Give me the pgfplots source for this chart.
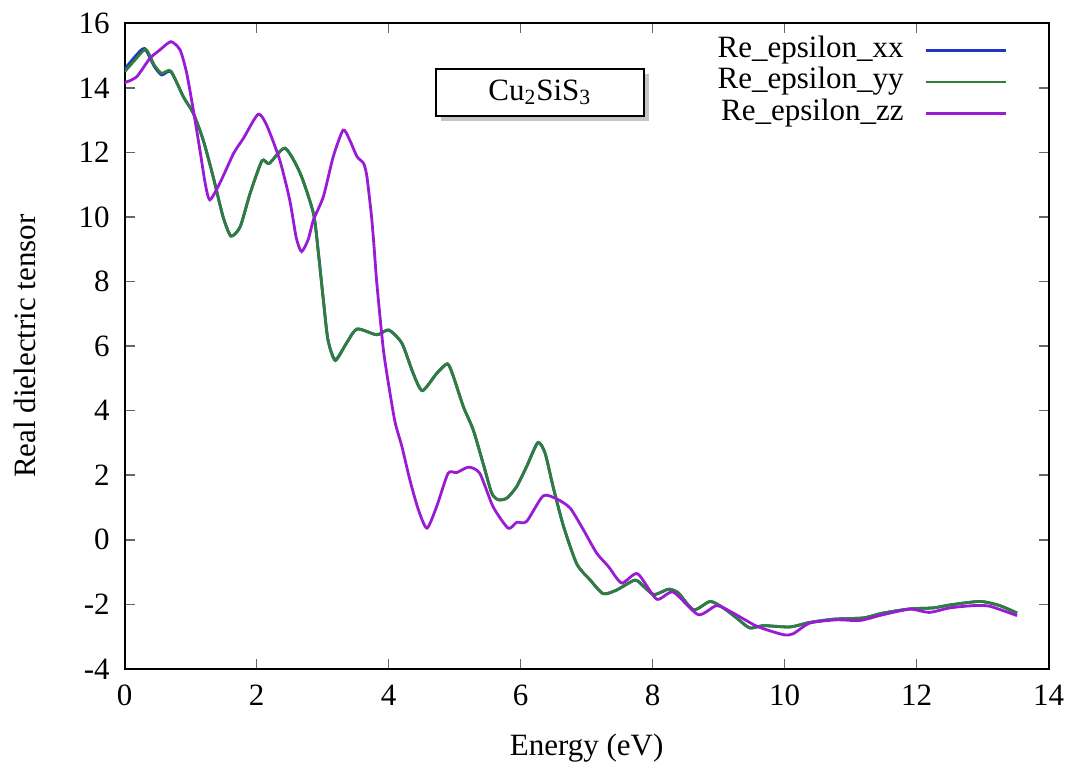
\documentclass[border=0pt]{standalone}
\usepackage{fontspec}
\setmainfont{Liberation Serif}
\usepackage{pgfplots}
\pgfplotsset{compat=1.18}
\usetikzlibrary{shadows}
\definecolor{cxx}{HTML}{1F35C8}
\definecolor{cyy}{HTML}{2F7F3A}
\definecolor{czz}{HTML}{9A1BD6}
\newcommand{\lbl}{\rmfamily\fontsize{15.5}{18}\selectfont}

\pgfplotstableread{
x y
0    14.50
0.15 14.85
0.32 15.19
0.45 14.70
0.56 14.45
0.70 14.52
0.89 13.72
1.04 13.21
1.19 12.38
1.34 11.25
1.49 10.01
1.61 9.41
1.75 9.70
1.90 10.73
2.08 11.74
2.19 11.66
2.43 12.13
2.66 11.35
2.86 10.11
2.93 8.98
3.01 7.43
3.08 6.19
3.19 5.55
3.36 6.09
3.52 6.53
3.82 6.35
4.00 6.50
4.20 6.09
4.37 5.16
4.51 4.62
4.73 5.16
4.89 5.45
4.98 5.06
5.13 4.13
5.28 3.41
5.43 2.37
5.56 1.45
5.66 1.24
5.79 1.29
5.94 1.65
6.09 2.27
6.26 3.01
6.37 2.68
6.49 1.65
6.65 0.41
6.85 -0.75
7.05 -1.24
7.25 -1.67
7.45 -1.56
7.73 -1.25
7.86 -1.44
8.02 -1.70
8.24 -1.53
8.39 -1.65
8.62 -2.17
8.87 -1.91
9.07 -2.11
9.27 -2.42
9.47 -2.73
9.68 -2.66
10.08 -2.70
10.38 -2.56
10.74 -2.46
11.19 -2.42
11.49 -2.27
11.90 -2.14
12.25 -2.11
12.50 -2.02
12.96 -1.91
13.26 -2.04
13.52 -2.27
}\yydata

\pgfplotstableread{
x y
0    14.58
0.15 14.95
0.30 15.22
0.45 14.66
0.56 14.40
0.70 14.50
0.89 13.72
1.04 13.21
1.19 12.38
1.34 11.25
1.49 10.01
1.61 9.41
1.75 9.70
1.90 10.73
2.08 11.74
2.19 11.66
2.43 12.13
2.66 11.35
2.86 10.11
2.93 8.98
3.01 7.43
3.08 6.19
3.19 5.58
3.36 6.09
3.52 6.53
3.82 6.35
4.00 6.50
4.20 6.09
4.37 5.16
4.51 4.62
4.73 5.16
4.89 5.45
4.98 5.06
5.13 4.13
5.28 3.41
5.43 2.37
5.56 1.45
5.66 1.24
5.79 1.29
5.94 1.65
6.09 2.27
6.26 3.01
6.37 2.68
6.49 1.65
6.65 0.41
6.85 -0.75
7.05 -1.24
7.25 -1.67
7.45 -1.56
7.73 -1.25
7.86 -1.44
8.02 -1.70
8.24 -1.53
8.39 -1.65
8.62 -2.17
8.87 -1.91
9.07 -2.11
9.27 -2.42
9.47 -2.73
9.68 -2.66
10.08 -2.70
10.38 -2.56
10.74 -2.46
11.19 -2.42
11.49 -2.27
11.90 -2.14
12.25 -2.11
12.50 -2.02
12.96 -1.91
13.26 -2.04
13.52 -2.27
}\xxdata

\pgfplotstableread{
x y
0    14.16
0.18 14.34
0.38 14.91
0.53 15.17
0.70 15.43
0.84 15.17
0.94 14.45
1.04 13.31
1.14 12.07
1.22 11.04
1.29 10.53
1.44 11.04
1.65 11.97
1.80 12.44
2.02 13.18
2.15 12.85
2.35 11.76
2.50 10.53
2.60 9.35
2.68 8.93
2.78 9.30
2.86 9.91
3.01 10.63
3.16 11.87
3.31 12.69
3.41 12.38
3.52 11.87
3.62 11.66
3.67 11.25
3.74 10.01
3.78 9.03
3.82 7.95
3.92 5.88
4.02 4.54
4.10 3.61
4.20 2.89
4.32 1.86
4.45 0.93
4.58 0.36
4.73 1.05
4.90 2.06
5.03 2.08
5.21 2.25
5.38 2.06
5.58 1.03
5.81 0.36
5.94 0.54
6.09 0.57
6.34 1.36
6.55 1.26
6.75 0.98
6.95 0.31
7.15 -0.41
7.33 -0.83
7.53 -1.34
7.77 -1.05
8.06 -1.84
8.31 -1.62
8.69 -2.32
8.97 -2.04
9.22 -2.27
9.58 -2.68
9.98 -2.94
10.13 -2.91
10.38 -2.58
10.79 -2.48
11.14 -2.50
11.49 -2.32
11.90 -2.15
12.19 -2.25
12.50 -2.11
12.86 -2.04
13.11 -2.06
13.52 -2.35
}\zzdata

\begin{document}
\begin{tikzpicture}
\useasboundingbox (-62.35pt,-46.5pt) rectangle (471.15pt,334.45pt);
\begin{axis}[
  scale only axis,
  width=462pt, height=322.8pt,
  xmin=0, xmax=14, ymin=-4, ymax=16,
  xtick={0,2,...,14}, ytick={-4,-2,...,16},
  xticklabels={0,2,4,6,8,10,12,14},
  yticklabels={-4,-2,0,2,4,6,8,10,12,14,16},
  font=\lbl,
  tick label style={font=\lbl},
  tick align=inside,
  major tick length=5pt,
  major tick style={black!60, line width=0.8pt},
  axis line style={line width=1pt},
  xticklabel style={yshift=-4.5pt},
  yticklabel style={xshift=-4pt},
  xlabel={Energy (eV)},
  ylabel={Real dielectric tensor},
  every axis x label/.style={at={(axis description cs:0.5,-0.1224)}, anchor=center},
  every axis y label/.style={at={(axis description cs:-0.108,0.5)}, anchor=center, rotate=90},
  legend plot pos=right,
  legend cell align=right,
  legend style={draw=none, fill=none, at={(axis description cs:0.956,0.982)}, anchor=north east,
    inner sep=0pt, row sep=0.5pt,
    nodes={text height=10.5pt, text depth=3.5pt, inner sep=0.6pt, font=\lbl}},
  legend image code/.code={\draw[#1] (0pt,0pt) -- (40pt,0pt);},
  every axis plot/.append style={line width=1.4pt, smooth, tension=0.4},
]
\addplot[cxx] table[x=x,y=y] {\xxdata};
\addlegendentry{Re\_epsilon\_xx\kern10pt}
\addplot[cyy] table[x=x,y=y] {\yydata};
\addlegendentry{Re\_epsilon\_yy\kern10pt}
\addplot[czz] table[x=x,y=y] {\zzdata};
\addlegendentry{Re\_epsilon\_zz\kern10pt}
\node[draw, line width=1.2pt, fill=white, minimum width=104pt, minimum height=23.5pt,
  drop shadow={shadow xshift=2.5pt, shadow yshift=-2.5pt, fill=black!45},
  font=\lbl] at (axis cs:6.29,13.86) {Cu\textsubscript{2}SiS\textsubscript{3}};
\end{axis}
\end{tikzpicture}
\end{document}
